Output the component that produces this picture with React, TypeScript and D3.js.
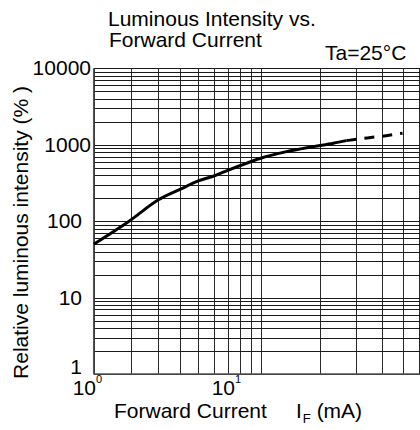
import React from "react";
import * as d3 from "d3";

const currentSolid = [1, 2, 3, 4, 5, 6, 7, 8, 10, 13.6, 18.6, 23.3, 27];
const intensitySolid = [50, 103, 189, 260, 336, 390, 461, 531, 666, 812, 944, 1046, 1132];
const currentDashed = [27, 34, 41, 50];
const intensityDashed = [1132, 1228, 1304, 1415];

const yTickValues = [1, 10, 100, 1000, 10000];
const yTickLabels = ["1", "10", "100", "1000", "10000"];
const xTickValues = [1, 10];
const xTickExponents = ["0", "1"];
const xGridValues = [1, 2, 3, 4, 5, 6, 7, 8, 9, 10, 20, 30, 40, 50, 60, 70, 80, 90, 100];
const yDecades = [1, 10, 100, 1000];

const W = 420;
const H = 430;
const FONT = "'Liberation Sans', Arial, Helvetica, sans-serif";
const FS = 21;

export default function App() {
  const x0 = 93.7;
  const dec1 = 167;
  const dec2 = 206;
  const xScale = d3
    .scaleSymlog()
    .constant(1.5)
    .domain([1, 10, 100])
    .range([x0, x0 + dec1, x0 + dec1 + dec2]);
  const yScale = d3.scaleLog().domain([1, 10000]).range([374, 68.3]);

  const yGrid: number[] = [];
  yDecades.forEach((d) => {
    for (let k = 1; k <= 9; k++) yGrid.push(d * k);
  });
  yGrid.push(10000);

  const line = d3
    .line<[number, number]>()
    .x((d) => xScale(d[0]))
    .y((d) => yScale(d[1]))
    .curve(d3.curveMonotoneX);

  const solid = currentSolid.map((c, i) => [c, intensitySolid[i]] as [number, number]);
  const dashed = currentDashed.map((c, i) => [c, intensityDashed[i]] as [number, number]);

  const top = yScale(10000);
  const bottom = yScale(1);
  const left = xScale(1);
  const right = W + 10;

  const snap = (v: number) => Math.round(v) + 0.5;

  return (
    <svg
      width={W}
      height={H}
      style={{ position: "absolute", left: 0, top: 0, background: "#fff" }}
      fontFamily={FONT}
    >
      <defs>
        <clipPath id="plot">
          <rect x={left - 1} y={top - 1} width={right - left} height={bottom - top + 2} />
        </clipPath>
      </defs>
      <g>
        {xGridValues.map((v) => (
          <line
            key={"xg" + v}
            x1={snap(xScale(v))}
            x2={snap(xScale(v))}
            y1={top}
            y2={bottom}
            stroke="#2a2a2a"
            strokeWidth={1}
          />
        ))}
        {yGrid.map((v, i) => (
          <line
            key={"yg" + i}
            x1={left}
            x2={right}
            y1={snap(yScale(v))}
            y2={snap(yScale(v))}
            stroke="#1a1a1a"
            strokeWidth={1}
          />
        ))}
        <line x1={left} x2={left} y1={top} y2={bottom} stroke="#555" strokeWidth={1.5} />
        <line x1={left} x2={right} y1={bottom} y2={bottom} stroke="#555" strokeWidth={1.5} />
      </g>
      <g clipPath="url(#plot)">
        <path d={line(solid) || ""} fill="none" stroke="#000" strokeWidth={3} />
        <path
          d={line(dashed) || ""}
          fill="none"
          stroke="#000"
          strokeWidth={3}
          strokeDasharray="10,8"
        />
      </g>
      {yTickValues.map((v, i) => (
        <text
          key={"yt" + v}
          x={v >= 1000 ? 91 : 82}
          y={v === 1 ? bottom : yScale(v) + 7}
          textAnchor="end"
          fontSize={FS}
          fill="#000"
        >
          {yTickLabels[i]}
        </text>
      ))}
      {xTickValues.map((v, i) => (
        <text
          key={"xt" + v}
          x={xScale(v) + (v === 1 ? -21 : -49)}
          y={395}
          fontSize={FS}
          fill="#000"
        >
          10
          <tspan fontSize={11} dy={-12}>
            {xTickExponents[i]}
          </tspan>
        </text>
      ))}
      <text x={108} y={26} fontSize={FS} fill="#000">
        Luminous Intensity vs.
      </text>
      <text x={109} y={47} fontSize={FS} fill="#000">
        Forward Current
      </text>
      <text x={325} y={60} fontSize={FS} fill="#000">
        Ta=25°C
      </text>
      <text
        transform="translate(28,232.5) rotate(-90)"
        textAnchor="middle"
        fontSize={FS}
        fill="#000"
      >
        Relative luminous intensity (% )
      </text>
      <text x={114} y={418} fontSize={FS} fill="#000">
        Forward Current
      </text>
      <text x={296} y={418} fontSize={FS} fill="#000">
        I
        <tspan fontSize={13} dy={5} dx={1}>
          F
        </tspan>
        <tspan dy={-5}> (mA)</tspan>
      </text>
    </svg>
  );
}
